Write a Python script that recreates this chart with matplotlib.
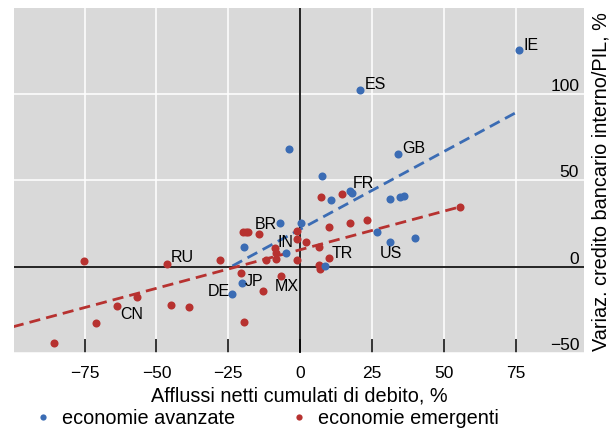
import matplotlib
matplotlib.use('Agg')
import matplotlib.pyplot as plt
from matplotlib.lines import Line2D

plt.rcParams['font.family'] = ['Liberation Sans', 'DejaVu Sans']

BLUE = '#3b6cb4'
RED = '#b73230'

# economie avanzate
adv_x = [76.1, 20.8, 34.2, -3.8, 7.6, 17.3, 18.1, 10.7, 31.3, 34.8, 36.3,
         -7.0, 0.4, -19.6, -4.9, 26.7, 31.3, 40.0, 8.7, -20.2, -23.6]
adv_y = [125.4, 102.5, 65.1, 68.2, 52.6, 43.6, 42.8, 38.7, 39.1, 40.1, 40.9,
         25.3, 25.5, 11.3, 8.0, 20.2, 14.0, 16.8, 0.3, -9.8, -16.0]

# economie emergenti
em_x = [-75.4, -46.5, -27.9, -19.8, -19.0, -18.0, -14.2, -1.0, -1.0, 2.2,
        6.6, -8.9, -8.4, -8.4, -11.8, -1.2, 9.9, 6.6, 6.9, 9.9, 17.4, 23.4,
        7.3, 14.5, 55.6, -20.7, -6.7, -12.8, -56.8, -63.8, -44.9, -38.8,
        -71.0, -19.5, -85.7]
em_y = [3.1, 1.2, 4.0, 20.2, 20.0, 19.8, 19.1, 20.4, 15.8, 14.3,
        11.6, 11.0, 7.8, 4.3, 3.6, 3.6, 5.0, 1.0, -1.2, 22.8, 25.2, 27.2,
        40.1, 42.0, 34.6, -3.9, -5.6, -14.0, -17.7, -22.9, -22.2, -23.7,
        -32.6, -32.4, -44.2]

# rette di regressione (estremi)
adv_fit_x = [-23.6, 76.1]
adv_fit_y = [0.3, 90.2]
em_fit_x = [-100, 55.6]
em_fit_y = [-35.0, 34.6]

# etichette paesi
lab_text = ['IE', 'ES', 'GB', 'FR', 'TR', 'US', 'BR', 'IN', 'RU', 'JP', 'DE', 'MX', 'CN']
lab_x = [77.9, 22.4, 35.7, 18.4, 11.1, 27.7, -15.8, -7.8, -45.1, -19.2, -32.3, -8.8, -62.7]
lab_y = [128.3, 105.4, 68.4, 47.9, 7.4, 7.4, 24.4, 13.9, 5.5, -8.9, -14.7, -11.4, -27.7]

xticks = [-75, -50, -25, 0, 25, 50, 75]
yticks = [-50, 0, 50, 100]

fig = plt.figure(figsize=(6.13, 4.30), dpi=100)
ax = fig.add_axes([0.0228, 0.1798, 0.9299, 0.8016])
ax.set_facecolor('#d9d9d9')
for s in ax.spines.values():
    s.set_visible(False)

ax.set_xlim(-99.6, 98.8)
ax.set_ylim(-50, 150)

ax.set_xticks(xticks, [f'{v}'.replace('-', '\u2212') for v in xticks])
ax.tick_params(axis='x', direction='in', length=10, width=1.1, color='black',
               labelsize=12.5, pad=9.5)
ax.set_yticks(yticks, [f'{v}'.replace('-', '\u2212') for v in yticks],
              va='bottom', ha='right')
ax.yaxis.tick_right()
ax.tick_params(axis='y', direction='out', length=3, width=1, color='white',
               labelsize=12.5, pad=-6.5)
ax.grid(True, color='white', lw=1.1)
ax.set_axisbelow(True)

ax.axhline(0, color='black', lw=1.2, zorder=1.5)
ax.axvline(0, color='black', lw=1.2, zorder=1.5)

ax.plot(adv_fit_x, adv_fit_y, color=BLUE, lw=2, dashes=(4, 2.2), zorder=2)
ax.plot(em_fit_x, em_fit_y, color=RED, lw=2, dashes=(4, 2.2), zorder=2)

ax.plot(em_x, em_y, 'o', color=RED, ms=5.8, mew=0, zorder=3)
ax.plot(adv_x, adv_y, 'o', color=BLUE, ms=5.8, mew=0, zorder=3)

for t, x, y in zip(lab_text, lab_x, lab_y):
    ax.text(x, y, t, fontsize=11.5, ha='left', va='center', zorder=4)

ax.set_xlabel('Afflussi netti cumulati di debito, %', fontsize=14.3, labelpad=4)
fig.text(0.981, 0.577, 'Variaz. credito bancario interno/PIL, %', rotation=90,
         fontsize=14.3, ha='center', va='center')

handles = [Line2D([], [], ls='none', marker='o', ms=4.5, mew=0, color=BLUE),
           Line2D([], [], ls='none', marker='o', ms=4.5, mew=0, color=RED)]
fig.legend(handles, ['economie avanzate', 'economie emergenti'], loc='center',
           bbox_to_anchor=(0.434, 0.026), ncol=2, frameon=False, fontsize=14.3,
           handletextpad=0.45, columnspacing=2.75, handlelength=1.0)

fig.savefig('out.png', dpi=100)
